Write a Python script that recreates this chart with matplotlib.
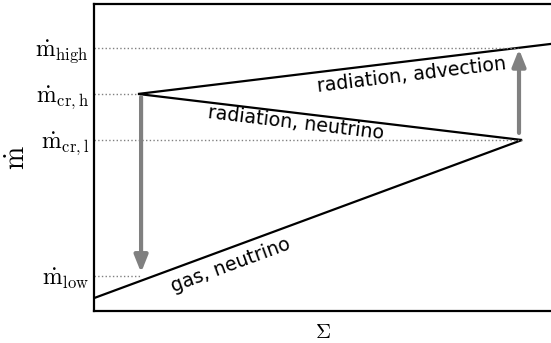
import matplotlib
matplotlib.use("Agg")
import matplotlib.pyplot as plt

plt.rcParams["mathtext.fontset"] = "cm"

# S-curve vertices (Sigma, mdot) in arbitrary units
sigma = [0.0, 0.9365, 0.0963, 1.0]
mdot = [0.042, 0.557, 0.707, 0.870]

# named accretion-rate levels and where their guide lines end
levels = [0.857, 0.707, 0.557, 0.114]
level_ends = [0.927, 0.0963, 0.9365, 0.103]
level_labels = [r"$\dot{\rm m}_{\rm high}$", r"$\dot{\rm m}_{\rm cr,h}$",
                r"$\dot{\rm m}_{\rm cr,l}$", r"$\dot{\rm m}_{\rm low}$"]

# transitions (x, y_from, y_to)
jumps = [(0.103, 0.697, 0.125), (0.930, 0.580, 0.853)]

# branch labels (x, y, angle, text)
branches = [(0.300, 0.150, 20.3, "gas, neutrino"),
            (0.442, 0.612, -6.8, "radiation, neutrino"),
            (0.696, 0.769, 6.9, "radiation, advection")]

fig = plt.figure(figsize=(5.51, 3.43), dpi=100)
ax = fig.add_axes([94 / 551, 32 / 343, 1 - 94 / 551, 307 / 343])

ax.plot(sigma, mdot, color="black", lw=1.6, solid_joinstyle="miter")

for y, xe in zip(levels, level_ends):
    ax.plot([0, xe], [y, y], color="gray", ls=":", lw=1)

for x, y0, y1 in jumps:
    ax.annotate("", xy=(x, y1), xytext=(x, y0),
                arrowprops=dict(arrowstyle="-|>,head_width=0.4,head_length=1.0",
                                color="gray", lw=3, shrinkA=0, shrinkB=0))

for x, y, ang, txt in branches:
    ax.text(x, y, txt, rotation=ang, ha="center", va="center",
            fontsize=13.7, rotation_mode="anchor")

ax.set_xlim(0, 1)
ax.set_ylim(0, 1)
ax.set_xticks([])
ax.set_yticks(levels)
ax.set_yticklabels(level_labels, fontsize=17)
ax.tick_params(axis="y", length=0, pad=3.5)
ax.spines["right"].set_visible(False)
for s in ["left", "top", "bottom"]:
    ax.spines[s].set_linewidth(1.6)

ax.set_xlabel(r"$\Sigma$", fontsize=15, labelpad=8)
ax.set_ylabel(r"$\dot{\rm m}$", fontsize=20)
ax.yaxis.set_label_coords(-0.138, 0.5)

fig.savefig("out.png", dpi=100)
